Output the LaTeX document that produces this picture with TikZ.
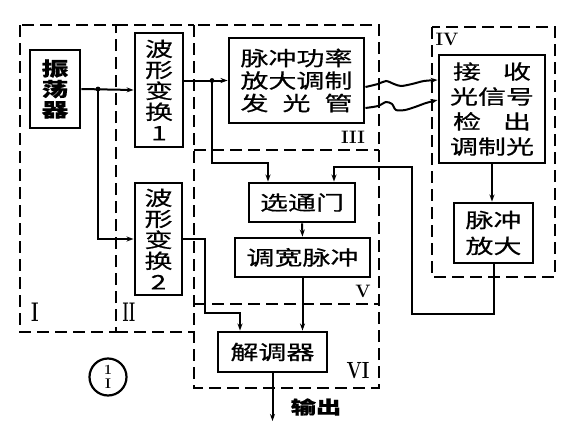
\documentclass[tikz,border=0pt]{standalone}
\usepackage{fontspec}
\newfontfamily\cjk[FakeStretch=1.4,FakeBold=0.6]{Noto Sans CJK SC}
\usetikzlibrary{arrows.meta}
\begin{document}
\begin{tikzpicture}[x=1pt,y=-1pt,
  blk/.style={draw, line width=2.9pt, inner sep=0pt, align=center, font=\cjk\fontsize{20}{22.5}\selectfont},
  region/.style={line width=2.7pt, dash pattern=on 12pt off 6pt},
  conn/.style={line width=2pt},
  arr/.style={conn, -{Stealth[length=7pt,width=5pt]}},
  lbl/.style={font=\fontsize{18}{18}\selectfont\bfseries},
]
\useasboundingbox (0,0) rectangle (573,431);

% dashed regions
\draw[region] (20,25) rectangle (116,332);
\draw[region] (116,25) -- (194,25);
\draw[region] (116,332) -- (194,332);
\draw[region] (194,25) rectangle (379,388);
\draw[region] (194,150) -- (379,150);
\draw[region] (194,304) -- (379,304);
\draw[region] (432,27) rectangle (555,277);

% region labels
\node[lbl] (l1) at (35,312) {\scalebox{1}[1.5]{I}};
\node[lbl] (l2) at (129,312) {\scalebox{0.8}[1.5]{II}};
\node[lbl] (l3) at (353,137) {III};
\node[lbl] (l4) at (447,39) {IV};
\node[lbl] (l5) at (363,291) {V};
\node[lbl] (l6) at (358,371) {\scalebox{1}[1.3]{VI}};

% blocks
\node[blk, minimum width=50pt, minimum height=78pt, font=\cjk\bfseries\fontsize{19}{20.5}\selectfont] (osc) at (55,89) {振\\荡\\器};
\node[blk, minimum width=48pt, minimum height=114pt, font=\cjk\fontsize{20}{21}\selectfont] (wt1) at (159,90) {波\\形\\变\\换\\1};
\node[blk, minimum width=47pt, minimum height=112pt, font=\cjk\fontsize{20}{21}\selectfont] (wt2) at (158.5,239) {波\\形\\变\\换\\2};
\node[blk, minimum width=135pt, minimum height=85pt] (pa) at (296.5,80.5) {脉冲功率\\放大调制\\发\kern14pt 光\kern14pt 管};
\node[blk, minimum width=106pt, minimum height=108pt, font=\cjk\fontsize{20}{25}\selectfont] (rx) at (492,109) {接\kern22pt 收\\光信号\\检\kern22pt 出\\调制光};
\node[blk, minimum width=79pt, minimum height=60pt, font=\cjk\fontsize{20}{26}\selectfont] (pamp) at (493.5,233) {脉冲\\放大};
\node[blk, minimum width=106pt, minimum height=39pt] (gate) at (302,202.5) {选通门};
\node[blk, minimum width=135pt, minimum height=39pt] (pw) at (302.5,257.5) {调宽脉冲};
\node[blk, minimum width=109pt, minimum height=40pt] (dem) at (272.5,352) {解调器};

% connectors
\coordinate (j1) at (98,89);
\coordinate (j2) at (212,80.5);
\draw[arr] (osc.east) -- (wt1.west);
\draw[arr] (j1) |- (wt2.west);
\fill (j1) circle (2.4pt);
\draw[arr] (wt1.east |- pa.west) -- (pa.west);
\draw[arr] (j2) -- (212,163) -| ([xshift=-34pt]gate.north);
\fill (j2) circle (2.4pt);
\draw[arr] (pamp.south) -- ++(0,50) -| (412,167) -| ([xshift=32pt]gate.north);
\draw[arr] (wt2.east) -- (205,239) |- (240,313) -- ([xshift=-32.5pt]dem.north);
\draw[arr] (gate.south) -- (pw.north);
\draw[arr] (pw.south) -- (pw.south |- dem.north);
\draw[arr] (rx.south) -- (rx.south |- pamp.north);
\coordinate (out) at (272.5,421);
\draw[arr] (dem.south) -- (out);
\node[font=\cjk\bfseries\fontsize{18}{18}\selectfont] (outl) at (316,407) {输出};

% optical links (wavy)
\coordinate (w1s) at ([yshift=-6.5pt]pa.east);
\coordinate (w2s) at ([yshift=-27.5pt]pa.east);
\coordinate (w1e) at ([yshift=29pt]rx.west);
\coordinate (w2e) at ([yshift=9pt]rx.west);
\draw[conn, -{Stealth[length=7pt,width=5pt]}] plot[smooth, tension=0.5] coordinates {(w1s) (378,84) (386,81) (394,84) (401,86) (412,84) (424,81) (w1e)};
\draw[conn, -{Stealth[length=7pt,width=5pt]}] plot[smooth, tension=0.5] coordinates {(w2s) (378,106) (386,102) (392,104) (396,110) (405,110) (415,107) (426,103) (w2e)};

% figure mark
\node[draw, circle, line width=2.2pt, minimum size=37pt, inner sep=0pt, align=center, font=\bfseries\fontsize{14}{14.5}\selectfont] (fig) at (108,377) {1\\I};
\end{tikzpicture}
\end{document}
